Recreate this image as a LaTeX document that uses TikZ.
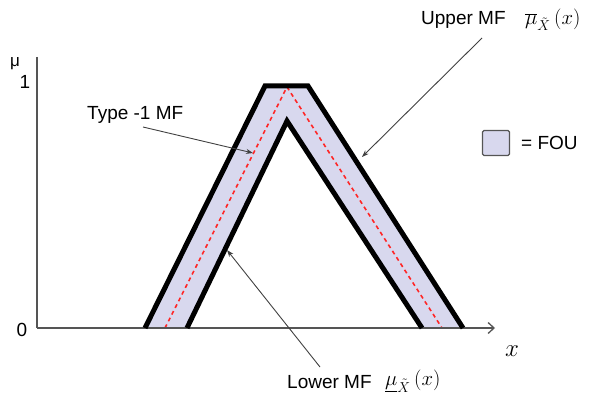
\documentclass[tikz,border=0pt]{standalone}
\usepackage{fontspec}
\setmainfont{Liberation Sans}
\usetikzlibrary{arrows.meta}
\definecolor{fou}{HTML}{D8D8EE}
\definecolor{axisgray}{HTML}{555555}
\tikzset{
  lbl/.style={font=\fontsize{19}{22}\selectfont, inner sep=0pt},
  mathlbl/.style={font=\fontsize{22}{24}\selectfont, inner sep=0pt},
  mf/.style={line width=5pt, black, line join=miter},
  axisline/.style={line width=1.3pt, axisgray},
  pointer/.style={line width=0.9pt, black!75, -{Stealth[length=7pt,width=5pt]}},
  reddash/.style={red!85!white, line width=1.6pt, dash pattern=on 4pt off 3.5pt}
}
\begin{document}
\begin{tikzpicture}[x=1pt,y=-1pt]
\useasboundingbox (0,0) rectangle (590,396);
% FOU fill
\fill[fou] (145,328) -- (265,86) -- (308,86) -- (463,328) -- (422,328) -- (287,121) -- (187,328) -- cycle;
% dashed type-1 MF
\draw[reddash] (165,328) -- (287,87) -- (442,328);
% axes
\draw[axisline] (37,57) -- (37,328);
\draw[axisline, -{Straight Barb[length=6pt,width=11pt]}] (37,328) -- (495,328);
% upper and lower MF
\draw[mf] (145,328) -- (265,86) -- (308,86) -- (463,328);
\draw[mf] (187,328) -- (287,121) -- (422,328);
% axis labels
\node[lbl, font=\fontsize{17}{20}\selectfont] (mu) at (15,64) {μ};
\node[lbl] (one) at (25,82) {1};
\node[lbl] (zero) at (22,330) {0};
\node[font=\fontsize{26}{28}\selectfont, inner sep=0pt] (xlab) at (512,351) {$x$};
% labels
\node[lbl, anchor=west] (upper) at (421,20) {Upper MF};
\node[mathlbl, anchor=west] (uppermath) at (525,20) {$\overline{\mu}_{\tilde{X}}\,(x)$};
\node[lbl, anchor=west] (type1) at (87,115) {Type -1 MF};
\node[lbl, anchor=west] (lower) at (287,382) {Lower MF};
\node[mathlbl, anchor=west] (lowermath) at (385,381) {$\underline{\mu}_{\tilde{X}}\,(x)$};
% legend
\node[draw=axisgray, line width=1.2pt, fill=fou, rounded corners=1.5pt, minimum width=27pt, minimum height=25pt, inner sep=0pt] (legbox) at (496,143) {};
\node[lbl, anchor=west] (legtext) at (521,143) {= FOU};
% pointers
\coordinate (upt) at (482,38);
\coordinate (upend) at (362,157);
\coordinate (tst) at (143,127);
\coordinate (tend) at (253,153);
\coordinate (lst) at (320,367);
\coordinate (lend) at (227,250);
\draw[pointer] (upt) -- (upend);
\draw[pointer] (tst) -- (tend);
\draw[pointer] (lst) -- (lend);
\end{tikzpicture}
\end{document}
